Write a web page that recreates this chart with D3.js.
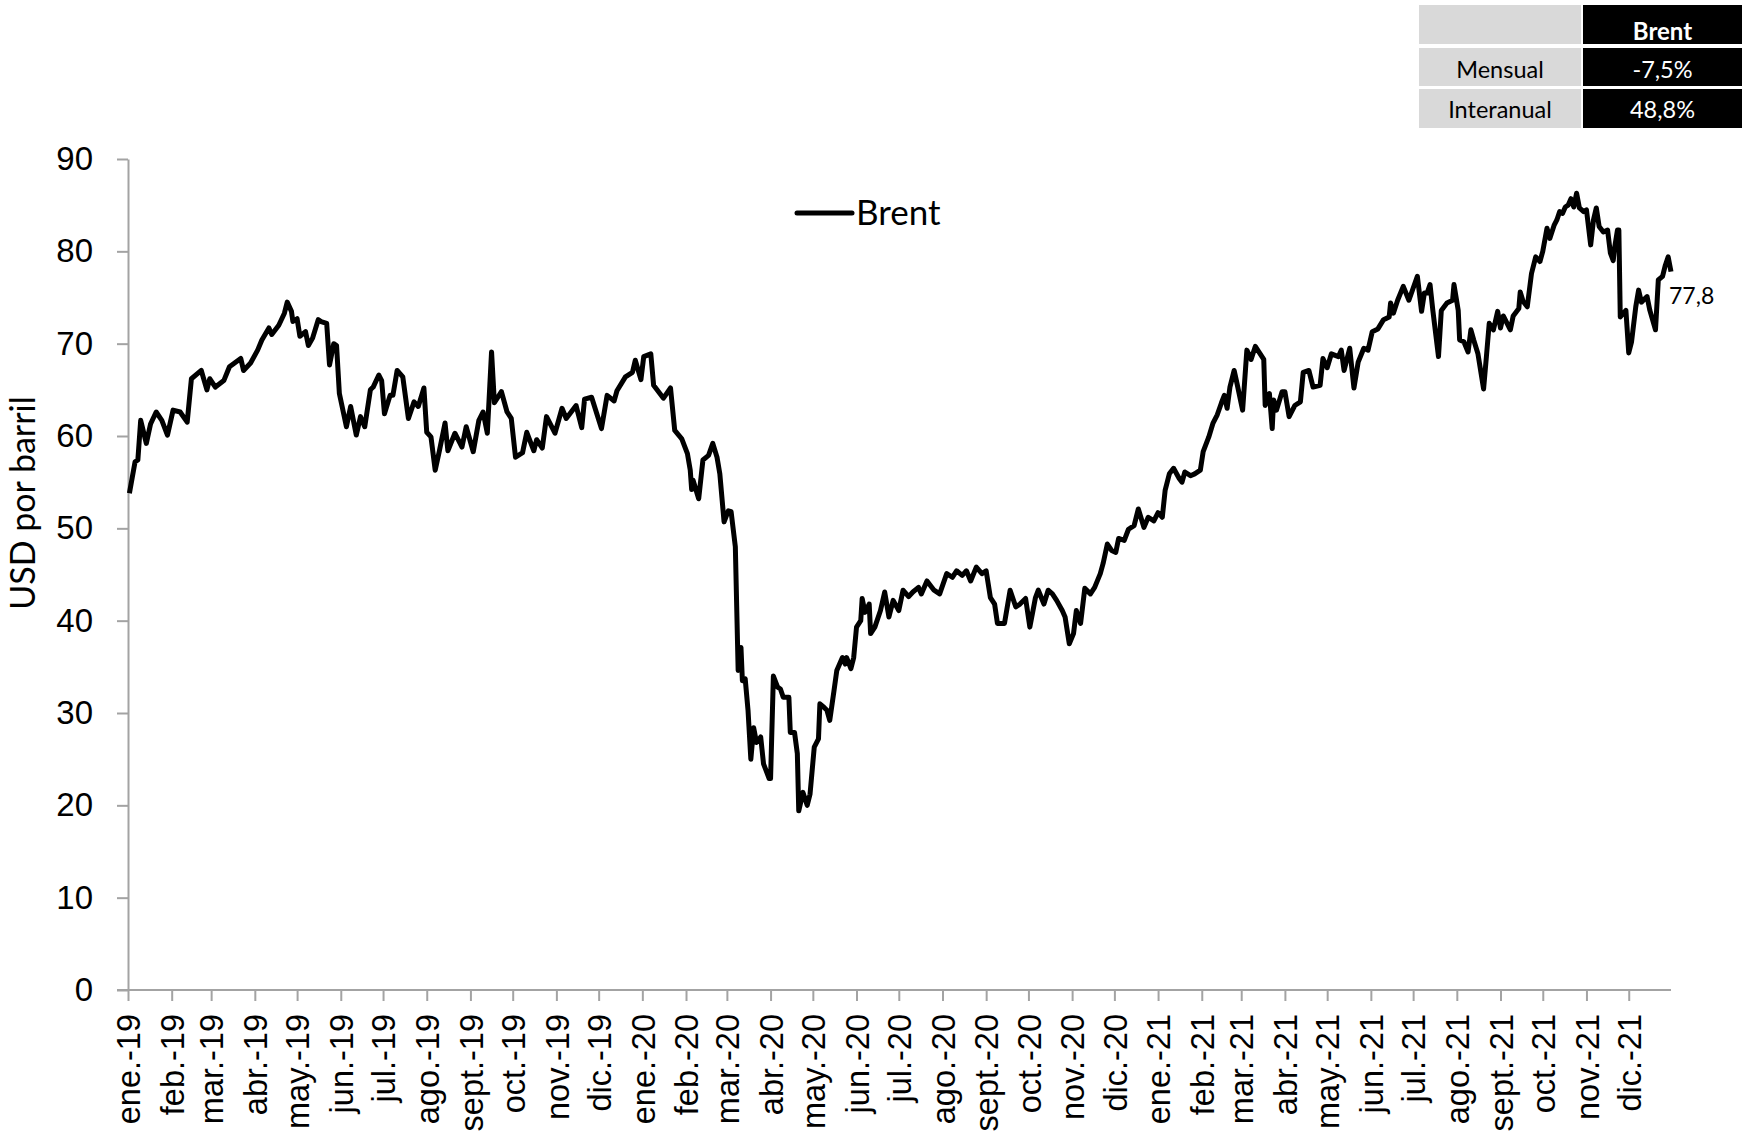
<!DOCTYPE html>
<html>
<head>
<meta charset="utf-8">
<script src="https://cdn.jsdelivr.net/npm/d3@7"></script>
<style>
  body { margin: 0; background: #fff; }
  svg { display: block; font-family: Lato, "Open Sans", sans-serif; }
  .axis path, .axis line { stroke: #a3a3a3; stroke-width: 2; }
  .axis text { fill: #000; }
</style>
</head>
<body>
<script>
// Brent, USD por barril
var dates = [
  "2019-01-02","2019-01-06","2019-01-08","2019-01-10","2019-01-14","2019-01-17","2019-01-21","2019-01-25","2019-01-29",
  "2019-02-02","2019-02-07","2019-02-12","2019-02-15","2019-02-22","2019-02-26","2019-02-28",
  "2019-03-04","2019-03-10","2019-03-14","2019-03-22","2019-03-24","2019-03-29",
  "2019-04-03","2019-04-06","2019-04-11","2019-04-13","2019-04-18","2019-04-22","2019-04-24","2019-04-27","2019-04-28",
  "2019-05-01","2019-05-03","2019-05-07","2019-05-09","2019-05-12","2019-05-16","2019-05-18","2019-05-22","2019-05-24","2019-05-27","2019-05-29","2019-05-31",
  "2019-06-05","2019-06-08","2019-06-12","2019-06-15","2019-06-18","2019-06-22","2019-06-24","2019-06-28","2019-06-30",
  "2019-07-02","2019-07-06","2019-07-08","2019-07-11","2019-07-15","2019-07-19","2019-07-23","2019-07-26","2019-07-30",
  "2019-08-01","2019-08-04","2019-08-07","2019-08-10","2019-08-14","2019-08-16","2019-08-21","2019-08-26","2019-08-29",
  "2019-09-03","2019-09-07","2019-09-10","2019-09-13","2019-09-16","2019-09-18","2019-09-23","2019-09-27","2019-09-30",
  "2019-10-03","2019-10-08","2019-10-11","2019-10-16","2019-10-18","2019-10-22","2019-10-25","2019-10-31",
  "2019-11-05","2019-11-08","2019-11-15","2019-11-19","2019-11-21","2019-11-26",
  "2019-12-03","2019-12-07","2019-12-12","2019-12-14","2019-12-20","2019-12-25","2019-12-27","2019-12-31",
  "2020-01-02","2020-01-07","2020-01-09","2020-01-16","2020-01-21","2020-01-24","2020-01-29",
  "2020-02-02","2020-02-04","2020-02-05","2020-02-06","2020-02-10","2020-02-13","2020-02-17","2020-02-20","2020-02-23","2020-02-25","2020-02-28",
  "2020-03-02","2020-03-04","2020-03-07","2020-03-09","2020-03-11","2020-03-12","2020-03-14","2020-03-16","2020-03-18","2020-03-20","2020-03-22","2020-03-25","2020-03-27","2020-03-31",
  "2020-04-01","2020-04-03","2020-04-06","2020-04-08","2020-04-10","2020-04-14","2020-04-15","2020-04-18","2020-04-20","2020-04-21","2020-04-24","2020-04-27","2020-04-29",
  "2020-05-02","2020-05-05","2020-05-06","2020-05-09","2020-05-11","2020-05-13","2020-05-16","2020-05-18","2020-05-22","2020-05-24","2020-05-25","2020-05-28","2020-05-30",
  "2020-06-01","2020-06-04","2020-06-05","2020-06-07","2020-06-10","2020-06-11","2020-06-14","2020-06-18","2020-06-21","2020-06-24","2020-06-27",
  "2020-07-01","2020-07-04","2020-07-08","2020-07-11","2020-07-15","2020-07-17","2020-07-21","2020-07-26","2020-07-30",
  "2020-08-04","2020-08-08","2020-08-11","2020-08-15","2020-08-18","2020-08-21","2020-08-25","2020-08-29",
  "2020-09-01","2020-09-04","2020-09-07","2020-09-09","2020-09-14","2020-09-18","2020-09-22","2020-09-25","2020-09-29",
  "2020-10-02","2020-10-06","2020-10-08","2020-10-12","2020-10-15","2020-10-18","2020-10-21","2020-10-25","2020-10-27","2020-10-30",
  "2020-11-02","2020-11-04","2020-11-07","2020-11-10","2020-11-14","2020-11-17","2020-11-21","2020-11-23","2020-11-26","2020-11-29",
  "2020-12-02","2020-12-04","2020-12-08","2020-12-11","2020-12-15","2020-12-18","2020-12-22","2020-12-25","2020-12-29",
  "2021-01-01","2021-01-04","2021-01-06","2021-01-09","2021-01-12","2021-01-16","2021-01-18","2021-01-20","2021-01-24","2021-01-27","2021-01-31",
  "2021-02-02","2021-02-06","2021-02-09","2021-02-12","2021-02-15","2021-02-17","2021-02-19","2021-02-21","2021-02-24","2021-02-26",
  "2021-03-02","2021-03-05","2021-03-08","2021-03-11","2021-03-14","2021-03-17","2021-03-18","2021-03-21","2021-03-23","2021-03-24","2021-03-26","2021-03-30",
  "2021-04-01","2021-04-04","2021-04-08","2021-04-12","2021-04-14","2021-04-18","2021-04-21","2021-04-26","2021-04-28",
  "2021-05-01","2021-05-04","2021-05-09","2021-05-11","2021-05-13","2021-05-17","2021-05-20","2021-05-23","2021-05-27","2021-05-30",
  "2021-06-02","2021-06-06","2021-06-10","2021-06-14","2021-06-15","2021-06-17","2021-06-20","2021-06-24","2021-06-28",
  "2021-07-01","2021-07-04","2021-07-07","2021-07-09","2021-07-11","2021-07-13","2021-07-15","2021-07-19","2021-07-21","2021-07-25","2021-07-29","2021-07-30",
  "2021-08-02","2021-08-03","2021-08-06","2021-08-09","2021-08-11","2021-08-13","2021-08-16","2021-08-20","2021-08-22","2021-08-24","2021-08-27","2021-08-30",
  "2021-09-01","2021-09-03","2021-09-08","2021-09-10","2021-09-14","2021-09-15","2021-09-17","2021-09-20","2021-09-23","2021-09-26","2021-09-29",
  "2021-10-01","2021-10-04","2021-10-06","2021-10-09","2021-10-11","2021-10-13","2021-10-15","2021-10-17","2021-10-19","2021-10-21","2021-10-23","2021-10-25","2021-10-27","2021-10-30",
  "2021-11-01","2021-11-04","2021-11-06","2021-11-08","2021-11-10","2021-11-13","2021-11-16","2021-11-18","2021-11-20","2021-11-21","2021-11-23","2021-11-24","2021-11-25","2021-11-29",
  "2021-12-01","2021-12-03","2021-12-06","2021-12-08","2021-12-10","2021-12-14","2021-12-16","2021-12-20","2021-12-22","2021-12-25","2021-12-27","2021-12-29","2021-12-31"
];

var brent = [
  53.8,57.2,57.4,61.7,59.2,61.3,62.6,61.7,60.1,
  62.8,62.6,61.5,66.2,67.1,65.0,66.2,
  65.3,66.0,67.5,68.4,67.1,67.9,
  69.3,70.4,71.7,71.0,72.0,73.3,74.5,73.5,72.4,
  72.7,70.8,71.3,69.8,70.6,72.6,72.4,72.2,67.7,70.0,69.8,64.6,
  61.0,63.2,60.1,62.1,61.0,65.0,65.3,66.6,66.0,
  62.4,64.4,64.4,67.1,66.4,61.9,63.7,63.2,65.2,
  60.4,59.9,56.3,58.4,61.4,58.4,60.3,58.8,61.0,
  58.3,61.7,62.6,60.3,69.1,63.6,64.8,62.6,61.9,
  57.7,58.2,60.4,58.4,59.6,58.7,62.1,60.3,
  63.0,61.9,63.3,60.9,64.0,64.2,
  60.8,64.4,63.8,64.9,66.4,66.9,68.2,66.1,
  68.6,68.9,65.5,64.1,65.2,60.6,59.7,
  58.1,56.3,54.2,55.2,53.2,57.4,57.9,59.2,57.7,55.9,50.7,
  51.9,51.8,48.0,34.6,37.1,33.5,33.7,30.3,25.0,28.4,26.8,27.4,24.5,22.9,
  22.9,34.0,32.8,32.6,31.7,31.7,27.9,27.9,25.6,19.4,21.4,20.0,21.2,
  26.3,27.2,31.0,30.6,30.3,29.2,32.4,34.6,36.0,35.3,36.0,34.8,36.0,
  39.3,40.0,42.4,40.9,41.8,38.6,39.3,41.1,43.1,40.4,42.2,
  41.1,43.3,42.6,43.1,43.6,42.9,44.3,43.3,42.9,
  45.1,44.7,45.4,44.9,45.4,44.3,45.8,45.1,
  45.4,42.5,41.8,39.7,39.7,43.3,41.5,41.8,42.4,
  39.3,42.5,43.3,41.8,43.3,42.9,42.2,41.1,40.4,37.5,
  38.6,41.1,39.7,43.5,42.9,43.6,45.1,46.2,48.3,47.6,
  47.4,48.9,48.7,49.9,50.3,52.1,50.1,51.2,50.8,
  51.7,51.2,54.1,55.9,56.5,55.4,55.0,56.1,55.7,55.9,56.3,
  58.3,59.9,61.4,62.3,63.6,64.4,63.0,65.3,67.1,65.7,
  62.8,69.3,68.3,69.7,69.0,68.3,63.3,64.6,60.8,63.9,62.8,64.8,
  64.8,62.1,63.3,63.7,66.9,67.1,65.3,65.5,68.4,
  67.4,68.9,68.6,69.3,67.1,69.5,65.2,68.0,69.5,69.3,
  71.3,71.6,72.6,72.9,74.4,73.3,74.7,76.2,74.7,
  76.0,77.3,73.5,75.5,75.5,76.4,73.6,68.6,73.6,74.4,74.7,76.4,
  73.6,70.4,70.2,69.1,71.5,70.4,68.9,65.1,68.6,72.2,71.5,73.5,
  71.7,73.0,71.5,73.0,73.8,75.6,74.6,74.0,77.6,79.4,78.9,
  80.0,82.5,81.4,82.8,83.4,84.3,84.1,84.8,85.0,85.7,84.8,86.3,84.7,84.3,
  84.5,80.7,83.4,84.7,82.7,82.1,82.3,79.8,79.0,80.4,82.3,82.3,72.9,73.6,
  69.0,70.2,74.0,75.8,74.5,75.1,73.6,71.5,76.9,77.3,78.5,79.4,77.8
];

var yTicks = [0, 10, 20, 30, 40, 50, 60, 70, 80, 90];
var monthLabels = ["ene.", "feb.", "mar.", "abr.", "may.", "jun.", "jul.", "ago.", "sept.", "oct.", "nov.", "dic."];
var seriesName = "Brent";
var yTitle = "USD por barril";
var lastLabel = "77,8";
var tableHead = ["", "Brent"];
var tableRows = [["Mensual", "-7,5%"], ["Interanual", "48,8%"]];

var width = 1748, height = 1138;
var parseDate = d3.timeParse("%Y-%m-%d");

var data = dates.map(function(d, i) { return { date: parseDate(d), value: brent[i] }; });

var svg = d3.select("body").append("svg")
    .attr("width", width)
    .attr("height", height);

var x = d3.scaleTime()
    .domain([parseDate("2019-01-01"), parseDate("2021-12-31")])
    .range([128, 1671]);

var y = d3.scaleLinear()
    .domain([0, 90])
    .range([990, 159]);

// y axis
svg.append("g")
    .attr("class", "axis")
    .attr("transform", "translate(128,0)")
    .call(d3.axisLeft(y).tickValues(yTicks).tickSize(11).tickSizeOuter(0).tickPadding(24))
    .selectAll("text")
    .style("font-size", "33px");

// x axis, one tick per month
var months = d3.timeMonth.range(parseDate("2019-01-01"), parseDate("2022-01-01"));
var xAxis = svg.append("g")
    .attr("class", "axis")
    .attr("transform", "translate(0,990)")
    .call(d3.axisBottom(x)
        .tickValues(months)
        .tickSize(11)
        .tickSizeOuter(0)
        .tickFormat(function(d) { return monthLabels[d.getMonth()] + "-" + d3.timeFormat("%y")(d); }));

xAxis.select(".domain").attr("d", "M117,0H1671");

xAxis.selectAll("text")
    .style("font-size", "32.5px")
    .attr("text-anchor", "end")
    .attr("transform", "rotate(-90)")
    .attr("x", -24)
    .attr("y", 0)
    .attr("dy", "0.36em");

// y title
svg.append("text")
    .attr("transform", "translate(35,503) rotate(-90)")
    .attr("text-anchor", "middle")
    .style("font-size", "34px")
    .text(yTitle);

// brent line
var line = d3.line()
    .x(function(d) { return x(d.date); })
    .y(function(d) { return y(d.value); });

svg.append("path")
    .datum(data)
    .attr("fill", "none")
    .attr("stroke", "#000")
    .attr("stroke-width", 5)
    .attr("stroke-linejoin", "round")
    .attr("d", line);

// last value label
var last = data[data.length - 1];
svg.append("text")
    .attr("x", x(last.date) - 2)
    .attr("y", y(last.value) + 32)
    .style("font-size", "23px")
    .text(lastLabel);

// legend
svg.append("line")
    .attr("x1", 797).attr("x2", 852)
    .attr("y1", 213).attr("y2", 213)
    .attr("stroke", "#000")
    .attr("stroke-width", 5)
    .attr("stroke-linecap", "round");

svg.append("text")
    .attr("x", 856)
    .attr("y", 225)
    .style("font-size", "35px")
    .text(seriesName);

// table top right
var colX = [1419, 1583], colW = [162, 159];
var rowY = [5, 48, 89], rowH = [39, 38, 39];
var rowBase = [40, 78, 118];
var rows = [tableHead].concat(tableRows);

rows.forEach(function(r, i) {
    r.forEach(function(cell, j) {
        svg.append("rect")
            .attr("x", colX[j]).attr("y", rowY[i])
            .attr("width", colW[j]).attr("height", rowH[i])
            .attr("fill", j === 0 ? "#d9d9d9" : "#000");
        svg.append("text")
            .attr("x", colX[j] + colW[j] / 2)
            .attr("y", rowBase[i])
            .attr("text-anchor", "middle")
            .attr("fill", j === 0 ? "#000" : "#fff")
            .style("font-size", i === 0 ? "24px" : "23.5px")
            .style("font-weight", i === 0 ? "bold" : "normal")
            .text(cell);
    });
});
</script>
</body>
</html>
